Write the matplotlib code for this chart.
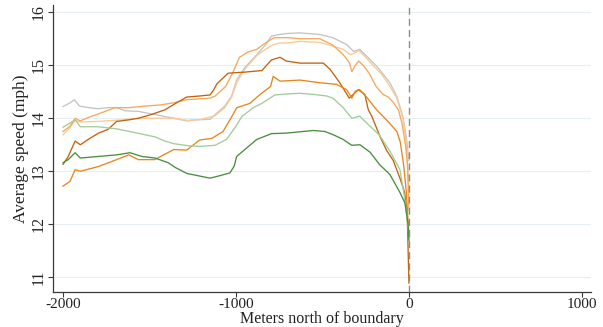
import matplotlib
matplotlib.use("Agg")
import matplotlib.pyplot as plt

plt.rcParams['font.family'] = ['Liberation Serif', 'DejaVu Serif']

# Average speed by distance from the boundary (meters north), one series per group
gray_x = [-2000, -1960, -1935, -1905, -1850, -1800, -1740, -1690, -1640, -1565, -1470, -1360, -1285, -1230,
          -1150, -1120, -1065, -1025, -995, -950, -880, -830, -795, -750, -700, -630, -515, -440, -360, -320,
          -285, -225, -170, -110, -70, -35, -15, 0]
gray_y = [14.22, 14.29, 14.35, 14.23, 14.2, 14.18, 14.2, 14.2, 14.14, 14.13, 14.07, 14.0, 13.95, 13.97,
          13.98, 14.07, 14.23, 14.42, 14.73, 14.95, 15.2, 15.38, 15.55, 15.58, 15.6, 15.61, 15.58, 15.52, 15.39, 15.26,
          15.3, 15.11, 14.92, 14.67, 14.41, 14.03, 13.65, 13.2]

peach_x = [-2000, -1960, -1930, -1900, -1800, -1660, -1565, -1470, -1360, -1280, -1200, -1120, -1065, -1025,
           -995, -950, -880, -830, -790, -750, -700, -630, -515, -440, -380, -340, -320, -290, -250, -200,
           -160, -110, -70, -35, -15, 0]
peach_y = [13.69, 13.82, 13.96, 13.93, 13.94, 13.97, 14.0, 14.0, 14.0, 13.96, 13.98, 14.05, 14.2, 14.4,
           14.68, 14.92, 15.18, 15.3, 15.38, 15.42, 15.42, 15.45, 15.43, 15.36, 15.3, 15.2, 15.22, 15.28, 15.15, 14.97,
           14.84, 14.6, 14.38, 14.0, 13.55, 12.6]

lorange_x = [-2000, -1960, -1930, -1900, -1850, -1780, -1700, -1620, -1526, -1440, -1362, -1285, -1200, -1150,
             -1120, -1060, -1020, -980, -930, -880, -830, -780, -700, -630, -515, -440, -380, -345, -330, -310,
             -290, -260, -230, -190, -150, -120, -90, -60, -40, -20, -8, 0]
lorange_y = [13.75, 13.85, 14.0, 13.95, 14.02, 14.1, 14.2, 14.2, 14.23, 14.25, 14.29, 14.35, 14.37, 14.38,
             14.42, 14.6, 14.85, 15.15, 15.25, 15.3, 15.42, 15.52, 15.52, 15.5, 15.5, 15.38, 15.2, 15.05, 14.88, 15.0,
             15.08, 14.98, 14.85, 14.6, 14.45, 14.4, 14.3, 14.15, 13.9, 13.5, 13.1, 12.27]

dorange_x = [-2000, -1970, -1930, -1900, -1855, -1795, -1740, -1690, -1620, -1565, -1490, -1410, -1360, -1285,
             -1210, -1150, -1130, -1110, -1045, -1000, -950, -850, -795, -745, -710, -630, -495, -455, -400, -345,
             -322, -293, -255, -235, -215, -168, -130, -90, -50, -25, -10, 0]
dorange_y = [13.13, 13.28, 13.57, 13.5, 13.6, 13.72, 13.79, 13.94, 13.97, 14.0, 14.07, 14.16, 14.26, 14.4,
             14.42, 14.44, 14.53, 14.65, 14.85, 14.86, 14.87, 14.9, 15.1, 15.15, 15.08, 15.04, 15.04, 14.92, 14.67, 14.38,
             14.45, 14.54, 14.45, 14.16, 14.04, 13.66, 13.4, 13.2, 12.85, 12.6, 12.2, 10.89]

orange_x = [-2000, -1960, -1930, -1900, -1795, -1690, -1620, -1565, -1470, -1360, -1285, -1210, -1140, -1075,
            -1035, -995, -920, -860, -800, -785, -745, -630, -515, -420, -360, -330, -310, -285, -245, -187,
            -130, -110, -70, -50, -30, -15, 0]
orange_y = [12.72, 12.81, 13.03, 13.0, 13.09, 13.22, 13.31, 13.22, 13.22, 13.41, 13.4, 13.59, 13.62, 13.75,
            13.97, 14.2, 14.28, 14.45, 14.6, 14.79, 14.7, 14.72, 14.67, 14.64, 14.54, 14.38, 14.51, 14.54, 14.4, 14.16,
            13.97, 13.9, 13.75, 13.55, 13.1, 12.6, 11.8]

lgreen_x = [-2000, -1930, -1900, -1800, -1690, -1600, -1470, -1410, -1360, -1270, -1210, -1121, -1055, -1000,
            -967, -900, -851, -775, -700, -630, -550, -475, -440, -380, -330, -285, -225, -170, -110, -52,
            -25, -10, 0]
lgreen_y = [13.83, 13.97, 13.84, 13.84, 13.8, 13.74, 13.65, 13.57, 13.52, 13.48, 13.47, 13.49, 13.6, 13.85,
            14.03, 14.2, 14.28, 14.44, 14.46, 14.47, 14.45, 14.42, 14.38, 14.2, 14.0, 14.04, 13.85, 13.68, 13.38, 13.03,
            12.5, 12.1, 11.75]

dgreen_x = [-2000, -1970, -1930, -1900, -1795, -1690, -1613, -1545, -1468, -1391, -1350, -1285, -1210, -1150,
            -1090, -1035, -1010, -996, -938, -880, -795, -707, -553, -486, -438, -380, -331, -283, -225, -168,
            -110, -52, -23, -5, 0]
dgreen_y = [13.16, 13.22, 13.35, 13.25, 13.28, 13.31, 13.35, 13.28, 13.25, 13.16, 13.07, 12.96, 12.91, 12.87,
            12.92, 12.97, 13.1, 13.28, 13.44, 13.6, 13.71, 13.72, 13.77, 13.75, 13.69, 13.6, 13.49, 13.5, 13.36, 13.12,
            12.94, 12.6, 12.4, 12.0, 11.7]

series = [
    (gray_x, gray_y, "#c4c4c4"),
    (peach_x, peach_y, "#fbc995"),
    (lorange_x, lorange_y, "#f5a85a"),
    (dorange_x, dorange_y, "#c0650c"),
    (orange_x, orange_y, "#e8861a"),
    (lgreen_x, lgreen_y, "#a2cc9a"),
    (dgreen_x, dgreen_y, "#4b8d40"),
]

x_ticks = [-2000, -1000, 0, 1000]
y_ticks = [11, 12, 13, 14, 15, 16]

fig = plt.figure(figsize=(6.03, 3.27), dpi=100)
ax = fig.add_axes([0.0879, 0.107, 0.892, 0.878])

for y in y_ticks:
    ax.axhline(y, color="#e7eef1", lw=0.8, zorder=0)

for xs, ys, c in series:
    ax.plot(xs, ys, color=c, lw=0.95, zorder=2)

ax.axvline(0, color="#8c8c8c", lw=1.0, ls=(0, (5, 3)), zorder=3)

ax.set_xlim(-2058, 1052)
ax.set_ylim(10.723, 16.138)
ax.set_xticks(x_ticks)
ax.set_yticks(y_ticks)
ax.set_xticklabels([str(v) for v in x_ticks], fontsize=11)
ax.set_yticklabels([str(v) for v in y_ticks], fontsize=11.5, rotation=90, va="center")

for side in ("top", "right"):
    ax.spines[side].set_visible(False)
for side in ("left", "bottom"):
    ax.spines[side].set_color("#3a3a3a")
    ax.spines[side].set_linewidth(0.9)
ax.tick_params(direction="out", length=3.5, width=0.8, color="#3a3a3a", labelcolor="#222222", pad=1)

ax.set_xlabel("Meters north of boundary", fontsize=11.5, color="#222222", va="center")
ax.xaxis.set_label_coords(0.5, -0.094)
ax.set_ylabel("Average speed (mph)", fontsize=12.5, color="#222222", labelpad=1)

fig.savefig("out.png", dpi=100)
